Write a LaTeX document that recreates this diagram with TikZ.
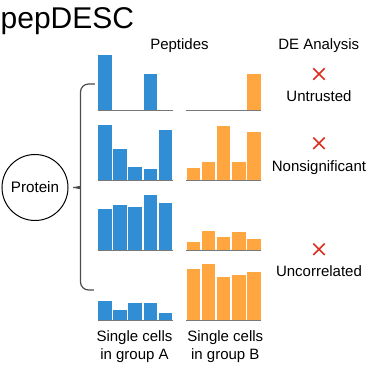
\documentclass[tikz,border=0pt]{standalone}
\usepackage{fontspec}
\setmainfont{Liberation Sans}
\definecolor{barA}{RGB}{50,142,212}
\definecolor{barB}{RGB}{255,166,64}
\definecolor{crossred}{RGB}{220,45,30}
\definecolor{axisgray}{RGB}{120,120,120}
\tikzset{
  bara/.style={fill=barA},
  barb/.style={fill=barB},
  axisline/.style={draw=axisgray,line width=1pt},
  lbl/.style={font=\fontsize{15}{17.6}\selectfont,anchor=base,inner sep=0pt},
  crossmark/.style={draw=crossred,line width=1.6pt},
  bracket/.style={draw=black!70,line width=1.2pt}
}
\begin{document}
\begin{tikzpicture}[x=1pt,y=-1pt]
\useasboundingbox (0,0) rectangle (368,368);
% title and headers
\node[anchor=base west,inner sep=0pt,font=\fontsize{30}{32}\selectfont] (title) at (0.5,28) {pepDESC};
\node[lbl] (peptides) at (179.5,49) {Peptides};
\node[lbl] (deana) at (318.7,49) {DE Analysis};
% bars, group A
\foreach \b/\tops in {110/{55,110,110,74,110},180.7/{125,149.3,167.3,169,130},250/{209,205.3,206.7,195,202.7},320/{300.7,310,302.7,303.3,313.3}} {
  \foreach \t [count=\i from 0] in \tops
    \fill[bara] (98.3+15.1*\i,\b) rectangle (98.3+15.1*\i+13.6,\t);
  \draw[axisline] (98,\b) -- (173,\b);
}
% bars, group B
\foreach \b/\tops in {110/{110,110,110,110,74},180.7/{168.3,162.3,126,162.3,131.7},250.7/{241.7,230.7,237.3,232.3,238.7},320/{269.3,264.3,276.7,275,272.3}} {
  \foreach \t [count=\i from 0] in \tops
    \fill[barb] (186.7+15.1*\i,\b) rectangle (186.7+15.1*\i+13.6,\t);
  \draw[axisline] (186.5,\b) -- (261.5,\b);
}
% protein and bracket
\node[draw,circle,line width=1pt,minimum size=66pt,inner sep=0pt,font=\fontsize{15.2}{18}\selectfont] (protein) at (35,187.5) {Protein};
\coordinate (bracetop) at (95,84);
\coordinate (bracebot) at (94,290);
\draw[bracket,rounded corners=8pt] (bracetop) -- (80.5,84) -- (80.5,179)
  .. controls (80.5,186) and (74,187.5) .. (protein.east)
  .. controls (74,187.5) and (80.5,189) .. (80.5,196) -- (80.5,290) -- (bracebot);
% DE analysis results
\foreach \n/\y/\txt/\ty in {untr/74/Untrusted/101.7,nons/143.3/Nonsignificant/171.7,unco/249.3/Uncorrelated/276.7} {
  \node[minimum size=11pt,inner sep=0pt] (x\n) at (319,\y) {};
  \draw[crossmark] (x\n.north west) -- (x\n.south east) (x\n.north east) -- (x\n.south west);
  \node[lbl] (l\n) at (319,\ty) {\txt};
}
% group labels
\node[lbl,align=center] (groupa) at (134.5,359.3) {Single cells\\in group A};
\node[lbl,align=center] (groupb) at (225.3,359.3) {Single cells\\in group B};
\end{tikzpicture}
\end{document}
